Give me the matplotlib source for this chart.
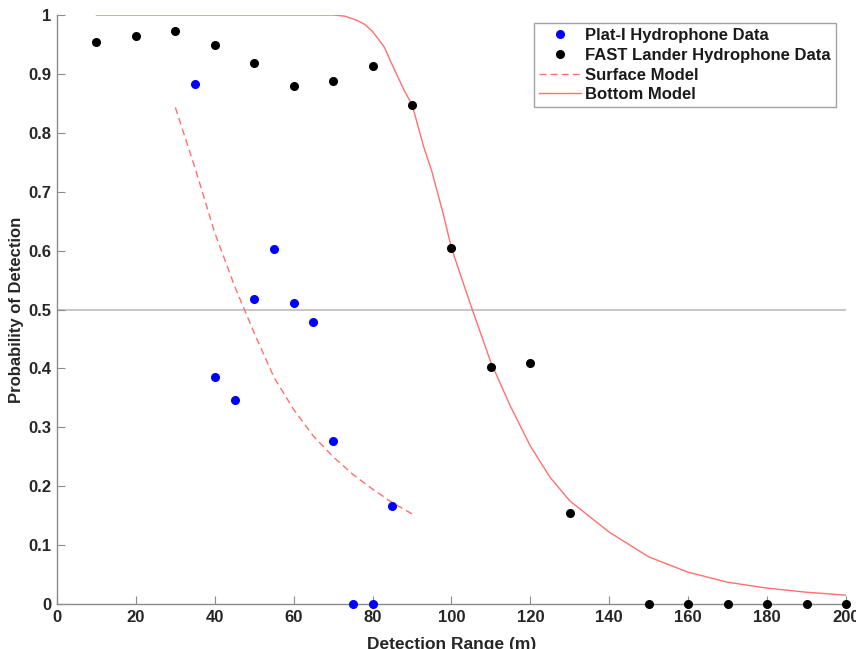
import numpy as np
import matplotlib.pyplot as plt

plt.rcParams['font.family'] = ['Liberation Sans', 'DejaVu Sans']

# Plat-I hydrophone detections (blue)
plat_range = [35, 40, 45, 50, 55, 60, 65, 70, 75, 80, 85]
plat_prob = [0.883, 0.385, 0.347, 0.518, 0.602, 0.511, 0.478, 0.277, 0.0, 0.0, 0.167]

# FAST lander hydrophone detections (black)
fast_range = [10, 20, 30, 40, 50, 60, 70, 80, 90, 100, 110, 120, 130, 150, 160, 170, 180, 190, 200]
fast_prob = [0.954, 0.965, 0.973, 0.949, 0.918, 0.880, 0.888, 0.913, 0.848, 0.604,
             0.403, 0.409, 0.155, 0.0, 0.0, 0.0, 0.0, 0.0, 0.0]

# Surface model (dashed)
surf_range = [30, 35, 40, 45, 50, 55, 60, 65, 70, 75, 80, 85, 90]
surf_prob = [0.843, 0.74, 0.63, 0.54, 0.46, 0.385, 0.33, 0.285, 0.25, 0.22, 0.195, 0.172, 0.153]

# Bottom model (solid)
bot_range = [10, 20, 30, 40, 50, 60, 65, 70, 73, 76, 78, 80, 83, 85, 88, 90, 93, 95, 98, 100,
             105, 110, 115, 120, 125, 130, 140, 150, 160, 170, 180, 190, 200]
bot_prob = [1.0, 1.0, 1.0, 1.0, 1.0, 1.0, 1.0, 1.0, 0.998, 0.991, 0.984, 0.972, 0.945, 0.915,
            0.872, 0.848, 0.775, 0.735, 0.66, 0.604, 0.505, 0.41, 0.335, 0.268, 0.215,
            0.175, 0.122, 0.08, 0.054, 0.037, 0.027, 0.02, 0.015]

fig = plt.figure(figsize=(8.56, 6.49), dpi=100)
ax = fig.add_axes([0.0666, 0.0693, 0.9217, 0.9076])

ax.axhline(0.5, color='#c8c8c8', lw=1.5, zorder=1)
ax.plot(plat_range, plat_prob, 'o', color='#0000ff', markersize=5.5, clip_on=False,
        label='Plat-I Hydrophone Data', zorder=4)
ax.plot(fast_range, fast_prob, 'o', color='black', markersize=5.5, clip_on=False,
        label='FAST Lander Hydrophone Data', zorder=4)
ax.plot(surf_range, surf_prob, '--', color='#ff7070', lw=1, dashes=(5, 3),
        label='Surface Model', zorder=3)
ax.plot(bot_range, bot_prob, '-', color='#ff7070', lw=1, label='Bottom Model', zorder=3)

ax.set_xlim(0, 200)
ax.set_ylim(0, 1)
ax.set_xticks(np.arange(0, 201, 20))
ax.set_yticks(np.arange(0, 1.01, 0.1))
ax.set_yticklabels(['0', '0.1', '0.2', '0.3', '0.4', '0.5', '0.6', '0.7', '0.8', '0.9', '1'])

for s in ['top', 'right']:
    ax.spines[s].set_visible(False)
for s in ['left', 'bottom']:
    ax.spines[s].set_color('#8c8c8c')
    ax.spines[s].set_linewidth(1.0)
ax.tick_params(direction='in', length=6, color='#8c8c8c', labelcolor='#262626',
               labelsize=12, pad=4)
for lab in ax.get_xticklabels() + ax.get_yticklabels():
    lab.set_fontweight('bold')

ax.set_xlabel('Detection Range (m)', fontsize=12.5, fontweight='bold', color='#262626', labelpad=9)
ax.set_ylabel('Probability of Detection', fontsize=12, fontweight='bold', color='#262626', labelpad=3)

leg = ax.legend(loc='upper right', bbox_to_anchor=(0.987, 0.986),
                prop={'weight': 'bold', 'size': 12}, frameon=True, fancybox=False,
                handlelength=2.5, handletextpad=0.25, borderpad=0.3, labelspacing=0.28,
                borderaxespad=0)
leg.get_frame().set_edgecolor('#8c8c8c')
leg.get_frame().set_linewidth(1.0)
for t in leg.get_texts():
    t.set_color('#1a1a1a')

fig.savefig('out.png', dpi=100)
